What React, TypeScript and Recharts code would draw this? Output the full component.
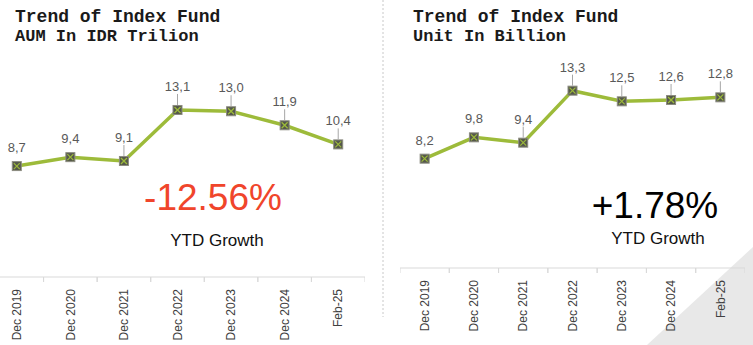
import React from 'react';
import { LineChart, Line, XAxis, YAxis, LabelList } from 'recharts';

// periods shown on both charts
const categories = ['Dec 2019', 'Dec 2020', 'Dec 2021', 'Dec 2022', 'Dec 2023', 'Dec 2024', 'Feb-25'];
// AUM in IDR trillion
const aumValues = [8.7, 9.4, 9.1, 13.1, 13.0, 11.9, 10.4];
// units in billion
const unitValues = [8.2, 9.8, 9.4, 13.3, 12.5, 12.6, 12.8];

const LINE_COLOR = '#9dbb3a';

const fmt = (v: number) => v.toFixed(1).replace('.', ',');

const SquareDot = (props: any) => {
  const { cx, cy } = props;
  if (cx == null || cy == null) return null;
  return (
    <g>
      <rect x={cx - 4.5} y={cy - 4.5} width={9} height={9} fill="#55584a" stroke="#8c8c80" strokeWidth={1} />
      <line x1={cx - 3} y1={cy - 3} x2={cx + 3} y2={cy + 3} stroke={LINE_COLOR} strokeWidth={1.2} />
      <line x1={cx - 3} y1={cy + 3} x2={cx + 3} y2={cy - 3} stroke={LINE_COLOR} strokeWidth={1.2} />
    </g>
  );
};

const PointLabel = (props: any) => {
  const { x, y, value, index } = props;
  const lead = index >= 2;
  const base = lead ? y - 19 : y - 14;
  return (
    <g>
      {lead && <line x1={x} y1={y - 5} x2={x} y2={base + 3} stroke="#a6a6a6" strokeWidth={1} />}
      <text x={x} y={base} textAnchor="middle" fontSize={13} fill="#595959" fontFamily="Liberation Sans, Arial, sans-serif">
        {fmt(value)}
      </text>
    </g>
  );
};

const CatTick = (props: any) => {
  const { x, y, payload, half } = props;
  const ty = y + 12;
  return (
    <g>
      <line x1={x - half} y1={y} x2={x - half} y2={y + 5} stroke="#d9d9d9" />
      <line x1={x + half} y1={y} x2={x + half} y2={y + 5} stroke="#d9d9d9" />
      <text
        x={x}
        y={ty}
        dy="0.35em"
        textAnchor="end"
        transform={`rotate(-90, ${x}, ${ty})`}
        fontSize={12}
        fill="#404040"
        fontFamily="Liberation Sans, Arial, sans-serif"
      >
        {payload.value}
      </text>
    </g>
  );
};

const TrendChart = ({ values, width, height, top, domainMax, axisH }: any) => {
  const data = categories.map((c, i) => ({ name: c, value: values[i] }));
  const half = width / categories.length / 2;
  return (
    <LineChart width={width} height={height} data={data} margin={{ top, right: 0, left: 0, bottom: 0 }}>
      <XAxis
        dataKey="name"
        interval={0}
        tickSize={0}
        tickMargin={0}
        tickLine={false}
        padding={{ left: half, right: half }}
        axisLine={{ stroke: '#d9d9d9' }}
        height={axisH}
        tick={<CatTick half={half} />}
      />
      <YAxis hide domain={[0, domainMax]} />
      <Line
        dataKey="value"
        stroke={LINE_COLOR}
        strokeWidth={3.5}
        dot={<SquareDot />}
        activeDot={false}
        isAnimationActive={false}
      >
        <LabelList dataKey="value" content={<PointLabel />} />
      </Line>
    </LineChart>
  );
};

const App: React.FC = () => {
  const mono = 'Liberation Mono, DejaVu Sans Mono, monospace';
  const sans = 'Liberation Sans, Arial, sans-serif';
  return (
    <div style={{ position: 'absolute', left: 0, top: 0, width: 753, height: 345, overflow: 'hidden', background: '#fff' }}>
      <svg width={753} height={345} style={{ position: 'absolute', left: 0, top: 0 }}>
        <polygon points="647,345 753,247 753,345" fill="#e8e8e8" />
        <line x1={383} y1={0} x2={383} y2={317} stroke="#c8c8c8" strokeDasharray="2 2" />
        <text x={15} y={22} fontFamily={mono} fontWeight="bold" fontSize={18} fill="#1a1a1a">Trend of Index Fund</text>
        <text x={15} y={41} fontFamily={mono} fontWeight="bold" fontSize={17} fill="#1a1a1a">AUM In IDR Trilion</text>
        <text x={413} y={22} fontFamily={mono} fontWeight="bold" fontSize={18} fill="#1a1a1a">Trend of Index Fund</text>
        <text x={413} y={41} fontFamily={mono} fontWeight="bold" fontSize={17} fill="#1a1a1a">Unit In Billion</text>
        <text x={213} y={210} textAnchor="middle" fontFamily={sans} fontSize={37} fill="#f0452b">-12.56%</text>
        <text x={217} y={246} textAnchor="middle" fontFamily={sans} fontSize={17} fill="#111">YTD Growth</text>
        <text x={655} y={218} textAnchor="middle" fontFamily={sans} fontSize={37} fill="#000">+1.78%</text>
        <text x={658} y={244} textAnchor="middle" fontFamily={sans} fontSize={17} fill="#111">YTD Growth</text>
      </svg>
      <div style={{ position: 'absolute', left: -10, top: 0 }}>
        <TrendChart values={aumValues} width={375} height={345} top={22} domainMax={20} axisH={68} />
      </div>
      <div style={{ position: 'absolute', left: 400, top: 0 }}>
        <TrendChart values={unitValues} width={345} height={345} top={28} domainMax={18} axisH={77} />
      </div>
    </div>
  );
};

export default App;
